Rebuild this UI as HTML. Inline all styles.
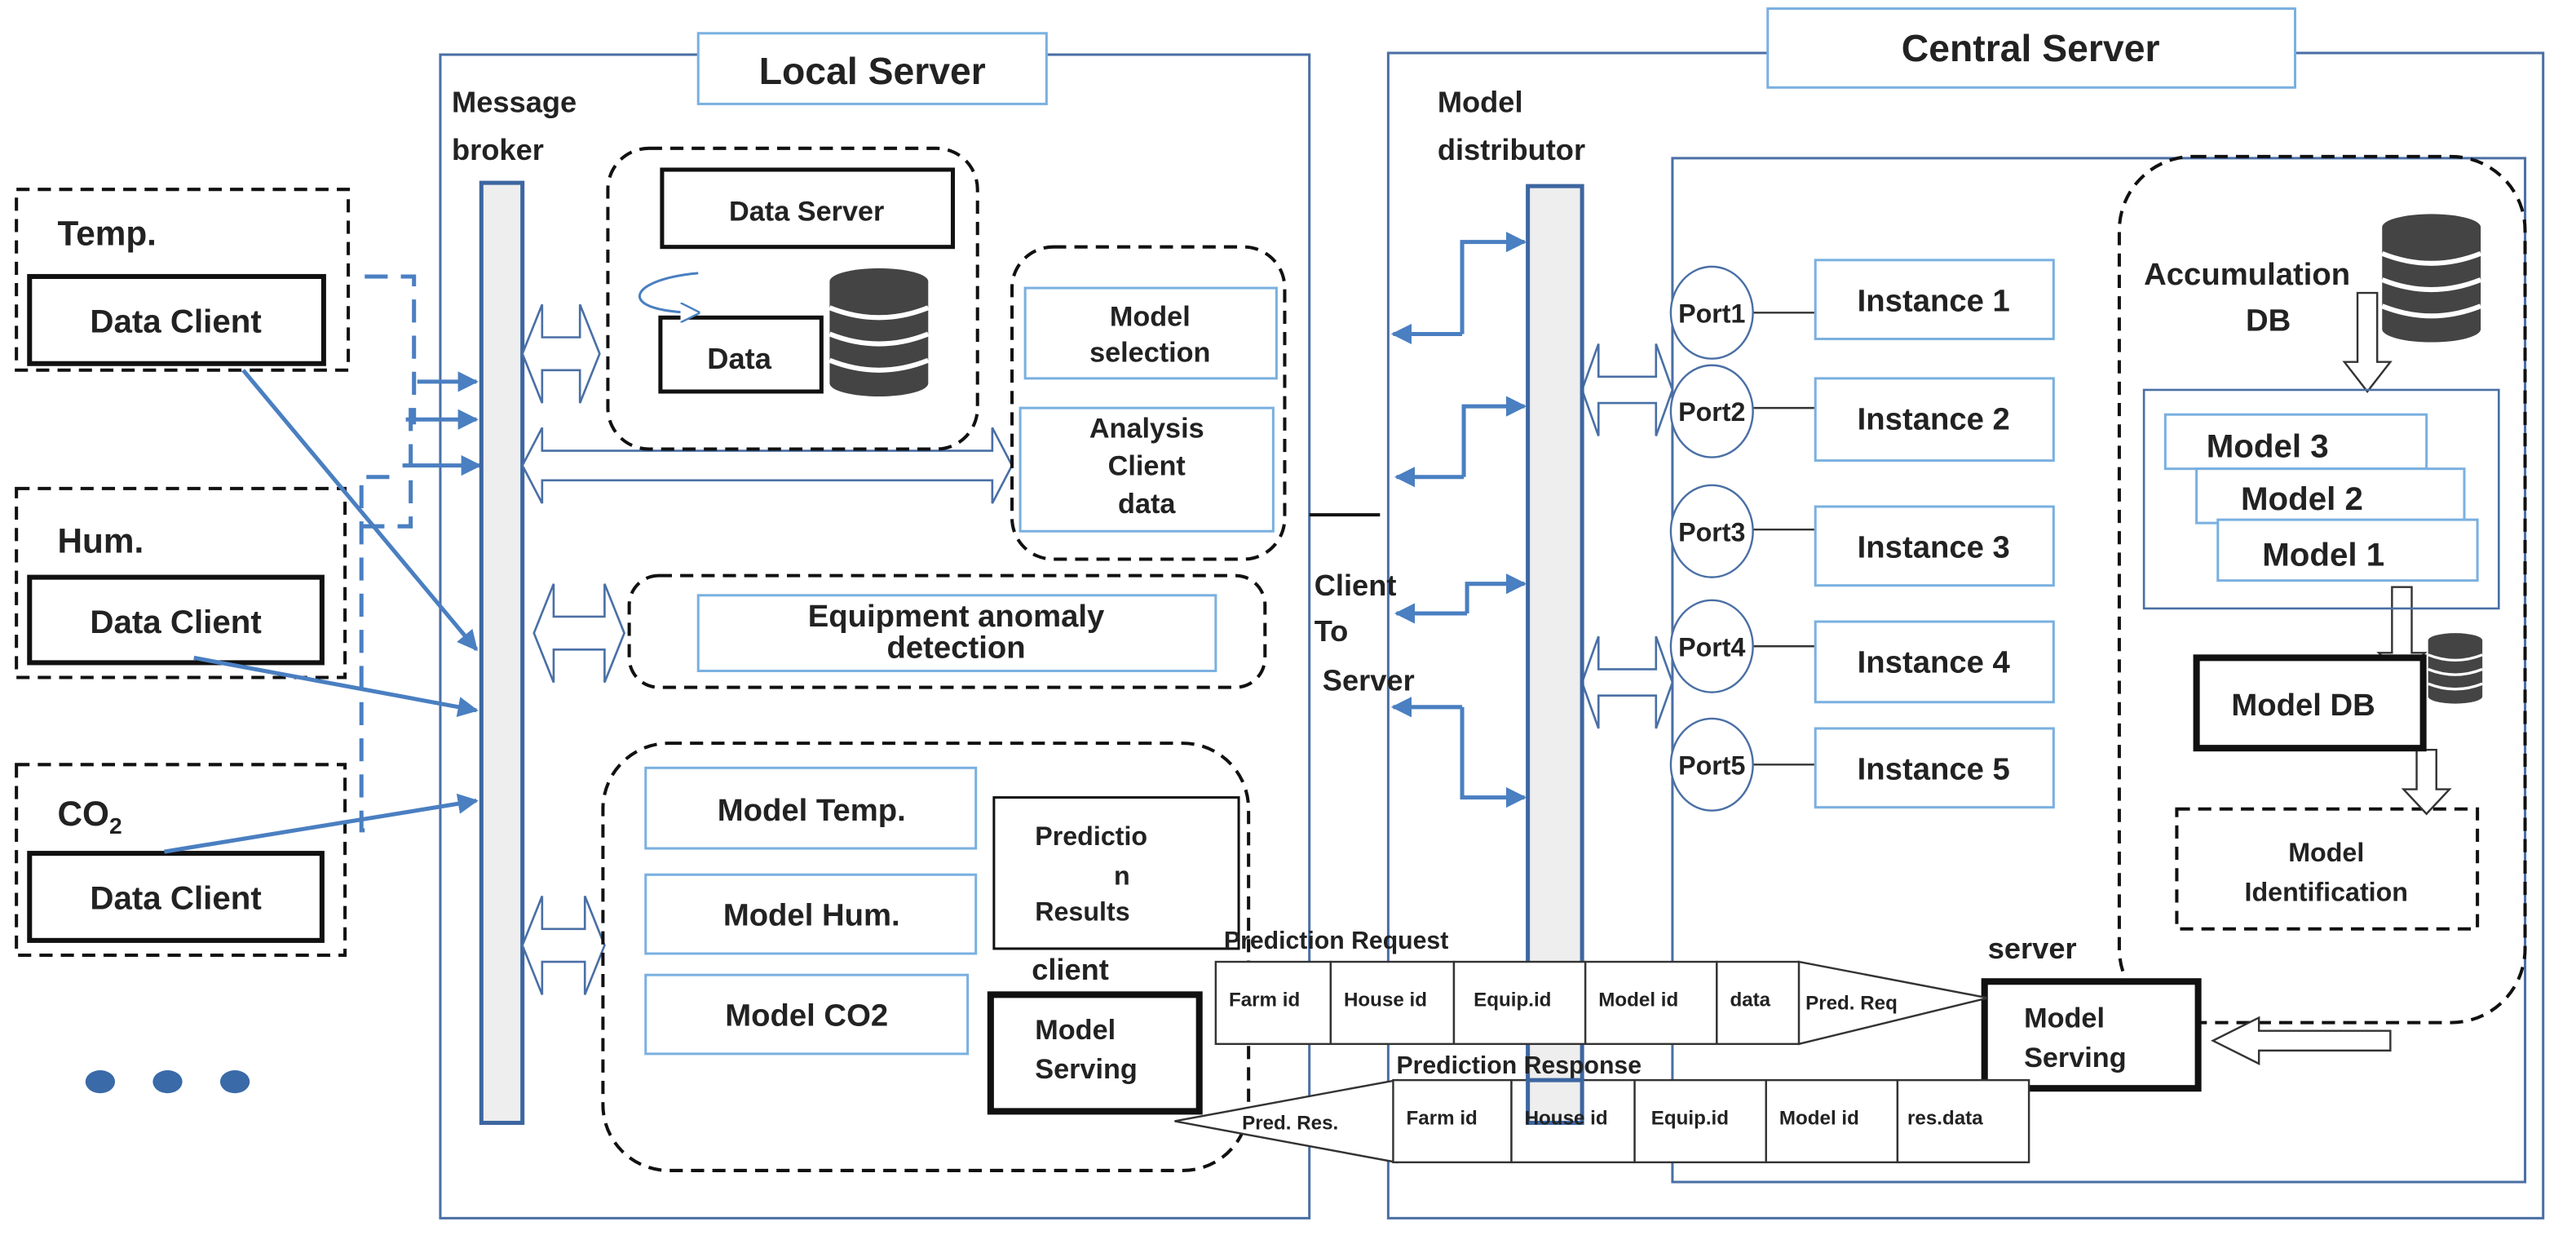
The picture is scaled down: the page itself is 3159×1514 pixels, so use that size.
<!DOCTYPE html>
<html><head><meta charset="utf-8"><style>html,body{margin:0;padding:0;background:#fff}svg{display:block}text{font-family:"Liberation Sans",sans-serif;font-weight:bold;fill:#222}</style></head>
<body>
<svg width="3159" height="1514" viewBox="0 0 1568 751" xmlns="http://www.w3.org/2000/svg">
<defs>
<marker id="ar" viewBox="0 0 10 10" refX="9" refY="5" markerWidth="5" markerHeight="5" orient="auto"><path d="M0,0L10,5L0,10z" fill="#4a7fc1"/></marker>
<marker id="ar2" viewBox="0 0 10 10" refX="9" refY="5" markerWidth="8" markerHeight="8" orient="auto"><path d="M0,0L10,5L0,10" fill="#fff" stroke="#4a7fc1"/></marker>
<g id="db"><ellipse cx="30" cy="8" rx="30" ry="8" fill="#444"/><rect x="0" y="8" width="60" height="62" fill="#444"/><ellipse cx="30" cy="70" rx="30" ry="8" fill="#444"/><path d="M0,24 q30,12 60,0 M0,40 q30,12 60,0 M0,56 q30,12 60,0" stroke="#fff" stroke-width="3" fill="none"/></g>
</defs>
<g fill="none" stroke="#4a6fa5" stroke-width="1.5">
<rect x="268" y="33" width="529" height="708"/>
<rect x="845" y="32" width="703" height="709"/>
<rect x="1018" y="96" width="519" height="623"/>
</g>
<rect x="425" y="20" width="212" height="43" fill="#fff" stroke="#7ab0e0" stroke-width="1.5"/>
<text x="531" y="51" font-size="23" text-anchor="middle">Local Server</text>
<rect x="1076" y="5" width="321" height="48" fill="#fff" stroke="#7ab0e0" stroke-width="1.5"/>
<text x="1236" y="37" font-size="23" text-anchor="middle">Central Server</text>
<text x="275" y="68" font-size="18">Message</text><text x="275" y="97" font-size="18">broker</text>
<text x="875" y="68" font-size="18">Model</text><text x="875" y="97" font-size="18">distributor</text>
<g fill="none" stroke="#111" stroke-width="2" stroke-dasharray="8,5">
<rect x="10" y="115" width="202" height="110"/><rect x="10" y="297" width="200" height="115"/><rect x="10" y="465" width="200" height="116"/>
</g>
<g fill="none" stroke="#111" stroke-width="3">
<rect x="18" y="168" width="179" height="53"/><rect x="18" y="351" width="178" height="52"/><rect x="18" y="519" width="178" height="53"/>
</g>
<text x="35" y="149" font-size="21">Temp.</text><text x="35" y="336" font-size="21">Hum.</text><text x="35" y="502" font-size="21">CO<tspan font-size="14" dy="5">2</tspan></text>
<g font-size="20" text-anchor="middle"><text x="107" y="202">Data Client</text><text x="107" y="385">Data Client</text><text x="107" y="553">Data Client</text></g>
<g fill="#3a6aa8"><ellipse cx="61" cy="658" rx="9" ry="7"/><ellipse cx="102" cy="658" rx="9" ry="7"/><ellipse cx="143" cy="658" rx="9" ry="7"/></g>
<g stroke="#4a7fc1" stroke-width="2.5" fill="none" marker-end="url(#ar)">
<path d="M148,225L290,395"/><path d="M118,400L290,432"/><path d="M100,518L290,487"/>
</g>
<g stroke="#4a7fc1" stroke-width="2.5" fill="none" stroke-dasharray="14,8">
<path d="M222,168H252V258"/><path d="M250,248V320H213"/><path d="M222,505H220V290H245"/>
</g>
<g stroke="#4a7fc1" stroke-width="2.5" fill="none" marker-end="url(#ar)">
<path d="M254,232H290"/><path d="M247,255H290"/><path d="M245,283H292"/>
</g>
<rect x="293" y="111" width="25" height="572" fill="#eee" stroke="#3d66a0" stroke-width="2.5"/>
<g fill="#fff" stroke="#4a6fa5" stroke-width="1.3">
<path d="M318,215l12,-30v20h23v-20l12,30l-12,30v-20h-23v20z"/>
<path d="M318,283l12,-23v14h274v-14l12,23l-12,23v-14h-274v14z"/>
<path d="M325,385l12,-30v20h31v-20l12,30l-12,30v-20h-31v20z"/>
<path d="M318,575l12,-30v20h26v-20l12,30l-12,30v-20h-26v20z"/>
<path d="M963,237l10,-28v20h35v-20l10,28l-10,28v-20h-35v20z"/>
<path d="M963,415l10,-28v20h35v-20l10,28l-10,28v-20h-35v20z"/>
</g>
<g fill="none" stroke="#111" stroke-width="2" stroke-dasharray="8,5">
<rect x="370" y="90" width="225" height="183" rx="25"/>
<rect x="616" y="150" width="166" height="190" rx="25"/>
<rect x="383" y="350" width="387" height="68" rx="18"/>
<rect x="367" y="452" width="393" height="260" rx="40"/>
<rect x="1290" y="95" width="247" height="527" rx="45"/>
<rect x="1325" y="492" width="183" height="73"/>
</g>
<g fill="none" stroke="#111" stroke-width="2.5"><rect x="403" y="103" width="177" height="47"/><rect x="402" y="193" width="98" height="45"/></g>
<path d="M425,166c-45,4 -50,24 0,24" fill="none" stroke="#4a7fc1" stroke-width="1.5" marker-end="url(#ar2)"/>
<use href="#db" x="505" y="163"/>
<text x="491" y="134" font-size="17" text-anchor="middle" font-weight="normal">Data Server</text>
<text x="450" y="224" font-size="18" text-anchor="middle" font-weight="normal">Data</text>
<g fill="#fff" stroke="#7ab0e0" stroke-width="1.5">
<rect x="624" y="175" width="153" height="55"/><rect x="621" y="248" width="154" height="75"/>
<rect x="425" y="362" width="315" height="46"/>
<rect x="393" y="467" width="201" height="49"/><rect x="393" y="532" width="201" height="48"/><rect x="393" y="593" width="196" height="48"/>
</g>
<g font-size="17" text-anchor="middle"><text x="700" y="198">Model</text><text x="700" y="220">selection</text>
<text x="698" y="266">Analysis</text><text x="698" y="289">Client</text><text x="698" y="312">data</text></g>
<text x="582" y="381" font-size="19" text-anchor="middle">Equipment anomaly</text>
<text x="582" y="400" font-size="19" text-anchor="middle">detection</text>
<g font-size="19" text-anchor="middle"><text x="494" y="499">Model Temp.</text><text x="494" y="563">Model Hum.</text><text x="491" y="624">Model CO2</text></g>
<rect x="605" y="485" width="149" height="92" fill="#fff" stroke="#111" stroke-width="1.5"/>
<g font-size="16"><text x="630" y="514">Predictio</text><text x="678" y="538">n</text><text x="630" y="560">Results</text></g>
<text x="628" y="596" font-size="18">client</text>
<rect x="603" y="605" width="127" height="71" fill="#fff" stroke="#111" stroke-width="4"/>
<text x="630" y="632" font-size="17">Model</text><text x="630" y="656" font-size="17">Serving</text>
<line x1="797" y1="313" x2="840" y2="313" stroke="#111" stroke-width="2"/>
<g font-size="18"><text x="800" y="362">Client</text><text x="800" y="390">To</text><text x="805" y="420">Server</text></g>
<g stroke="#4a7fc1" stroke-width="2.5" fill="none" marker-end="url(#ar)">
<path d="M890,203V147H928"/><path d="M890,203H848"/>
<path d="M891,290V247H928"/><path d="M891,290H850"/>
<path d="M893,373V355H928"/><path d="M893,373H850"/>
<path d="M890,430V485H928"/><path d="M890,430H848"/>
</g>
<rect x="930" y="113" width="33" height="570" fill="#eee" stroke="#3d66a0" stroke-width="2.5"/>
<g stroke="#333" stroke-width="1.2"><path d="M1018,190H1105M1018,248H1105M1018,322H1105M1018,393H1105M1018,465H1105"/></g>
<g fill="#fff" stroke="#4a6fa5" stroke-width="1.2">
<ellipse cx="1042" cy="190" rx="25" ry="28"/><ellipse cx="1042" cy="250" rx="25" ry="28"/><ellipse cx="1042" cy="323" rx="25" ry="28"/><ellipse cx="1042" cy="393" rx="25" ry="28"/><ellipse cx="1042" cy="465" rx="25" ry="28"/>
</g>
<g font-size="16" text-anchor="middle"><text x="1042" y="196">Port1</text><text x="1042" y="256">Port2</text><text x="1042" y="329">Port3</text><text x="1042" y="399">Port4</text><text x="1042" y="471">Port5</text></g>
<g fill="#fff" stroke="#7ab0e0" stroke-width="1.5">
<rect x="1105" y="158" width="145" height="48"/><rect x="1105" y="230" width="145" height="50"/><rect x="1105" y="308" width="145" height="48"/><rect x="1105" y="378" width="145" height="49"/><rect x="1105" y="443" width="145" height="48"/>
</g>
<g font-size="19" text-anchor="middle"><text x="1177" y="189">Instance 1</text><text x="1177" y="261">Instance 2</text><text x="1177" y="339">Instance 3</text><text x="1177" y="409">Instance 4</text><text x="1177" y="474">Instance 5</text></g>
<text x="1305" y="173" font-size="19">Accumulation</text><text x="1367" y="201" font-size="19">DB</text>
<use href="#db" x="1450" y="130"/>
<g fill="#fff" stroke="#333" stroke-width="1.2">
<path d="M1435,178h12v42h8l-14,18l-14,-18h8z"/>
<path d="M1456,357h12v40h8l-14,14l-14,-14h8z"/>
<path d="M1471,456h12v24h8l-14,15l-14,-15h8z"/>
<path d="M1455,627v12h-80v8l-28,-14l28,-14v8z"/>
</g>
<rect x="1305" y="237" width="216" height="133" fill="none" stroke="#4a6fa5" stroke-width="1.3"/>
<g fill="#fff" stroke="#7ab0e0" stroke-width="1.5"><rect x="1318" y="252" width="159" height="33"/><rect x="1337" y="285" width="163" height="33"/><rect x="1350" y="316" width="158" height="37"/></g>
<g font-size="20"><text x="1343" y="278">Model 3</text><text x="1364" y="310">Model 2</text><text x="1377" y="344">Model 1</text></g>
<rect x="1337" y="400" width="138" height="55" fill="#fff" stroke="#111" stroke-width="4"/>
<text x="1402" y="435" font-size="19" text-anchor="middle">Model DB</text>
<g transform="translate(1478,385) scale(0.55)"><use href="#db"/></g>
<text x="1416" y="524" font-size="16" text-anchor="middle" font-weight="normal">Model</text>
<text x="1416" y="548" font-size="16" text-anchor="middle" font-weight="normal">Identification</text>
<text x="1210" y="583" font-size="18">server</text>
<rect x="1208" y="597" width="130" height="65" fill="#fff" stroke="#111" stroke-width="4"/>
<text x="1232" y="625" font-size="17">Model</text><text x="1232" y="649" font-size="17">Serving</text>
<text x="745" y="577" font-size="15">Prediction Request</text>
<g fill="#fff" stroke="#333" stroke-width="1.2">
<rect x="740" y="585" width="70" height="50"/><rect x="810" y="585" width="75" height="50"/><rect x="885" y="585" width="80" height="50"/><rect x="965" y="585" width="80" height="50"/><rect x="1045" y="585" width="50" height="50"/>
<path d="M1095,585L1210,607L1095,635z"/>
</g>
<g font-size="12"><text x="748" y="612">Farm id</text><text x="818" y="612">House id</text><text x="897" y="612">Equip.id</text><text x="973" y="612">Model  id</text><text x="1053" y="612">data</text><text x="1099" y="614">Pred. Req</text></g>
<text x="850" y="653" font-size="15">Prediction Response</text>
<g fill="#fff" stroke="#333" stroke-width="1.2">
<path d="M850,657L715,682L850,707z"/>
<rect x="848" y="657" width="72" height="50"/><rect x="920" y="657" width="75" height="50"/><rect x="995" y="657" width="80" height="50"/><rect x="1075" y="657" width="80" height="50"/><rect x="1155" y="657" width="80" height="50"/>
</g>
<rect x="930" y="657" width="33" height="26" fill="#eee" stroke="#3d66a0" stroke-width="2.5"/>
<g font-size="12"><text x="756" y="687">Pred. Res.</text><text x="856" y="684">Farm id</text><text x="928" y="684">House id</text><text x="1005" y="684">Equip.id</text><text x="1083" y="684">Model  id</text><text x="1161" y="684">res.data</text></g>
</svg>
</body></html>
